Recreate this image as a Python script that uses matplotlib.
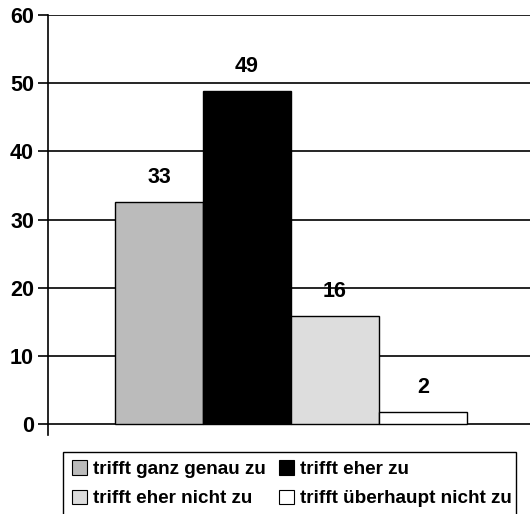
import matplotlib
matplotlib.use('Agg')
import matplotlib.pyplot as plt
from matplotlib.patches import Patch, Rectangle

# Data
categories = ['trifft ganz genau zu', 'trifft eher zu',
              'trifft eher nicht zu', 'trifft überhaupt nicht zu']
values = [32.6, 48.9, 15.8, 1.8]
value_labels = ['33', '49', '16', '2']
colors = ['#bbbbbb', '#000000', '#dddddd', '#ffffff']
y_ticks = [0, 10, 20, 30, 40, 50, 60]

plt.rcParams['font.family'] = ['Liberation Sans', 'DejaVu Sans']
plt.rcParams['font.weight'] = 'bold'

W, H = 530, 514
fig = plt.figure(figsize=(W / 100, H / 100), dpi=100)
ax = fig.add_axes([48 / W, 1 - 435 / H, 1 - 48 / W, (435 - 15) / H])

# Gridlines behind bars
for t in y_ticks:
    ax.axhline(t, color='black', lw=1.2, zorder=0)

x = range(len(values))
bars = ax.bar(x, values, width=1.0, color=colors, edgecolor='black',
              linewidth=1.0, zorder=2)

for xi, v, lab in zip(x, values, value_labels):
    ax.text(xi, v + 3.6, lab, ha='center', va='center',
            fontsize=15.5, fontweight='bold')

ax.set_xlim(-1.261, 4.216)
ax.set_ylim(-1.6, 60)
ax.set_yticks(y_ticks)
ax.set_yticklabels([str(t) for t in y_ticks], fontsize=15.5, fontweight='bold')
ax.set_xticks([])
ax.tick_params(axis='y', length=7, width=1.2, pad=3)
for s in ['top', 'right', 'bottom']:
    ax.spines[s].set_visible(False)
ax.spines['left'].set_linewidth(1.2)

# Legend (row-wise order, matplotlib fills column-wise)
handles = [Patch(facecolor=c, edgecolor='black', linewidth=0.8) for c in colors]
order = [0, 2, 1, 3]
fig.legend([handles[i] for i in order], [categories[i] for i in order],
           loc='upper left', bbox_to_anchor=(57 / W, 1 - 445 / H), ncol=2,
           frameon=False, prop={'weight': 'bold', 'size': 13.6},
           handlelength=0.8, handleheight=0.8, handletextpad=0.3,
           columnspacing=0.7, labelspacing=0.62, borderpad=0.3)
fig.add_artist(Rectangle((63 / W, -0.05), (516 - 63) / W, 0.05 + (514 - 452) / H,
                         transform=fig.transFigure, fill=False,
                         edgecolor='black', linewidth=1.0))

fig.savefig('out.png', dpi=100)
